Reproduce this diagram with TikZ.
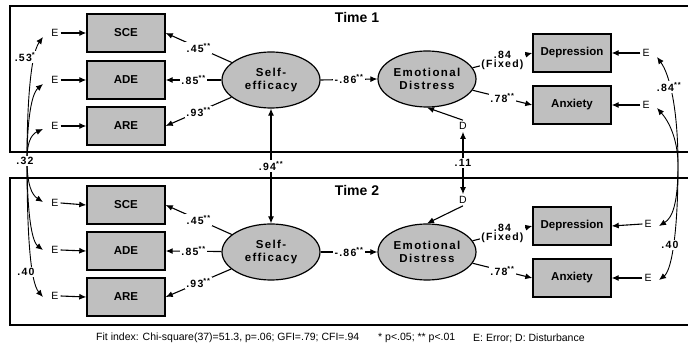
\documentclass[tikz,border=0pt]{standalone}
\usepackage{fontspec}
\setmainfont{Liberation Sans}
\newfontfamily\coeffont{Liberation Sans}[LetterSpace=12]
\usetikzlibrary{arrows.meta,shapes.geometric}

\tikzset{
  obs/.style={draw, line width=1.4pt, fill=black!25, minimum width=78pt, minimum height=38pt,
    font=\fontsize{11.5}{13}\selectfont\bfseries},
  lat/.style={draw, ellipse, line width=1.2pt, fill=black!25, minimum width=98pt, minimum height=56pt,
    align=center, inner sep=0pt, font=\fontsize{11.5}{13}\coeffont\bfseries},
  err/.style={inner sep=2pt, font=\fontsize{10.5}{12}\selectfont},
  coef/.style={fill=white, inner sep=1.5pt, align=center, font=\fontsize{10.5}{11}\coeffont\bfseries},
  path/.style={line width=1.1pt, -{Latex[length=7pt,width=6pt]}},
  both/.style={line width=1.1pt, {Latex[length=7pt,width=6pt]}-{Latex[length=7pt,width=6pt]}},
  corr/.style={line width=0.9pt, {Latex[length=7pt,width=6pt]}-{Latex[length=7pt,width=6pt]}},
  frame/.style={line width=1.6pt},
  note/.style={anchor=west, inner sep=0pt, font=\fontsize{10.5}{12}\selectfont},
}
\newcommand{\sig}[1]{\textsuperscript{#1}}

\begin{document}
\begin{tikzpicture}[x=1pt, y=-1pt]
  \useasboundingbox (0,0) rectangle (688,347);

  % Frames of the two waves
  \draw[frame] (700,6) -- (10,6) -- (10,152) -- (700,152);
  \draw[frame] (700,178) -- (10,178) -- (10,325) -- (700,325);
  \node[font=\fontsize{14}{16}\selectfont\bfseries] (t1) at (357,17) {Time 1};
  \node[font=\fontsize{14}{16}\selectfont\bfseries] (t2) at (357,190) {Time 2};

  % Time 1 measurement model
  \node[obs] (sce1) at (126,33) {SCE};
  \node[obs] (ade1) at (126,80) {ADE};
  \node[obs] (are1) at (126,126) {ARE};
  \node[lat] (se1) at (271,80) {Self-\\efficacy};
  \node[lat] (ed1) at (427,79) {Emotional\\Distress};
  \node[obs] (dep1) at (572,53) {Depression};
  \node[obs] (anx1) at (572,105) {Anxiety};
  \node[err] (el1) at (55,33) {E};
  \node[err] (el2) at (55,80) {E};
  \node[err] (el3) at (55,126) {E};
  \node[err] (er1) at (646,53) {E};
  \node[err] (er2) at (646,105) {E};
  \node[err] (d1) at (463,126) {D};

  % Time 2 measurement model
  \node[obs] (sce2) at (126,205) {SCE};
  \node[obs] (ade2) at (126,251) {ADE};
  \node[obs] (are2) at (126,297) {ARE};
  \node[lat] (se2) at (271,252) {Self-\\efficacy};
  \node[lat] (ed2) at (427,252) {Emotional\\Distress};
  \node[obs] (dep2) at (572,226) {Depression};
  \node[obs] (anx2) at (572,278) {Anxiety};
  \node[err] (el4) at (55,203) {E};
  \node[err] (el5) at (55,250) {E};
  \node[err] (el6) at (55,296) {E};
  \node[err] (er3) at (648,224) {E};
  \node[err] (er4) at (648,278) {E};
  \node[err] (d2) at (463,200) {D};

  % Errors into indicators
  \foreach \e/\b in {el1/sce1, el2/ade1, el3/are1, el4/sce2, el5/ade2, el6/are2}
    \draw[path] (\e.east) -- (\b.west);
  \foreach \e/\b in {er1/dep1, er2/anx1, er3/dep2, er4/anx2}
    \draw[path] (\e.west) -- (\b.east);

  % Loadings and structural paths
  \foreach \t in {1,2} {
    \draw[path] (se\t) -- node[coef] {.45\sig{**}} (sce\t.east);
    \draw[path] (se\t) -- node[coef] {.85\sig{**}} (ade\t.east);
    \draw[path] (se\t) -- node[coef] {.93\sig{**}} (are\t.east);
    \draw[path] (se\t.east) -- node[coef] {-.86\sig{**}} (ed\t.west);
    \draw[path] (ed\t) -- node[coef, font=\fontsize{10.5}{9}\coeffont\bfseries] {.84\\(Fixed)} (dep\t.west);
    \draw[path] (ed\t) -- node[coef] {.78\sig{**}} (anx\t.west);
  }
  \draw[path] (d1.north) -- (ed1.south);
  \draw[path] (d2.south) -- (ed2.north);

  % Stability across waves
  \draw[both] (se1.south) -- node[coef] {.94\sig{**}} (se2.north);
  \draw[both] (d1.south) -- node[coef] {.11} (d2.north);

  % Correlated errors, left side
  \coordinate (lc) at (27,160);
  \draw[corr] (43,37) .. controls (30,55) and (27,110) .. (lc)
    .. controls (27,185) and (32,195) .. (43,202);
  \draw[corr] (43,84) .. controls (30,95) and (27,130) .. (lc)
    .. controls (27,200) and (30,240) .. (43,250);
  \draw[corr] (43,129) .. controls (30,135) and (27,145) .. (lc)
    .. controls (27,230) and (30,282) .. (43,297);
  \node[coef] at (25,57) {.53\sig{*}};
  \node[coef] at (25,161) {.32};
  \node[coef] at (26,272) {.40};

  % Correlated errors, right side
  \coordinate (rc) at (678,165);
  \draw[corr] (657,57) .. controls (670,75) and (678,110) .. (rc)
    .. controls (678,205) and (672,218) .. (659,226);
  \draw[corr] (657,108) .. controls (672,125) and (678,145) .. (rc)
    .. controls (678,230) and (672,270) .. (659,280);
  \node[coef] at (669,87) {.84\sig{**}};
  \node[coef] at (670,245) {.40};

  % Footnote
  \node[note] (fit) at (96,338) {Fit index: Chi-square(37)=51.3, p=.06; GFI=.79; CFI=.94};
  \node[note] (sg) at (378,338) {* p<.05; ** p<.01};
  \node[note] (key) at (473,338) {E: Error; D: Disturbance};
\end{tikzpicture}
\end{document}
